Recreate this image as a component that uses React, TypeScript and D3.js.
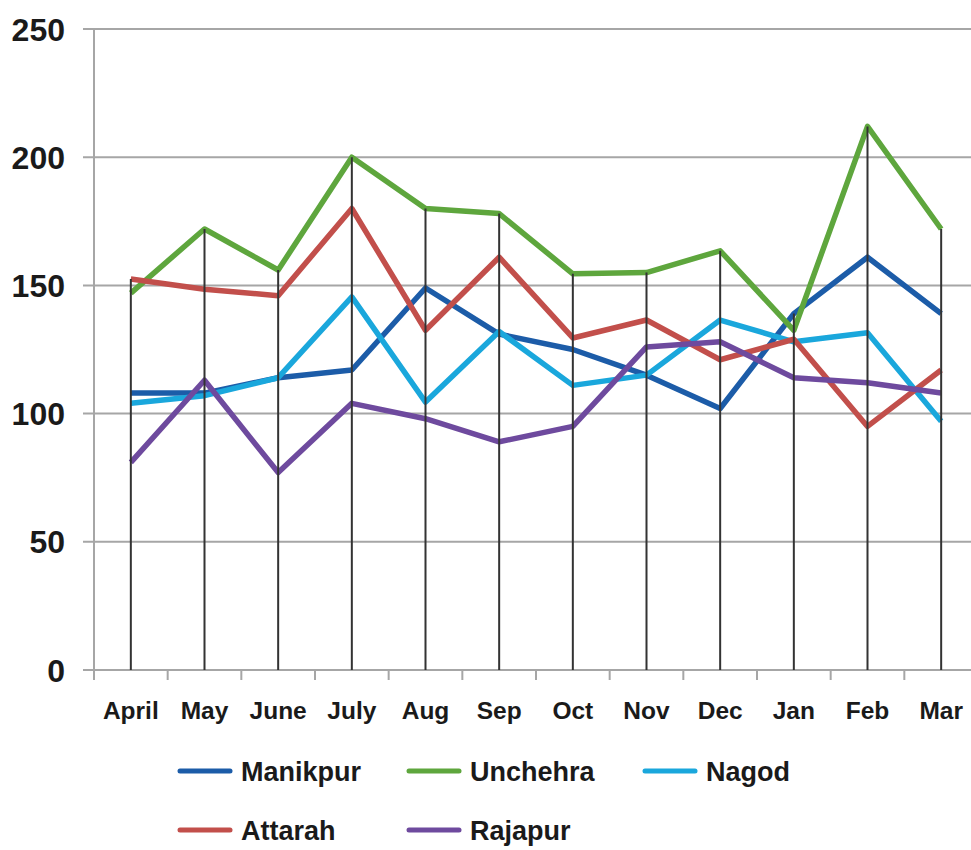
import * as React from 'react';
import * as d3 from 'd3';

const months = ['April', 'May', 'June', 'July', 'Aug', 'Sep', 'Oct', 'Nov', 'Dec', 'Jan', 'Feb', 'Mar'];
const yTicks = [0, 50, 100, 150, 200, 250];

const manikpur = [108, 108, 114, 117, 149, 131, 125, 115, 102, 139, 161, 139];
const unchehra = [147, 172, 156, 200, 180, 178, 154.5, 155, 163.5, 132.5, 212, 172];
const nagod = [104, 107, 114, 145.5, 104.5, 132, 111, 115, 136.5, 128, 131.5, 97];
const attarah = [152.5, 148.5, 146, 180, 132.5, 161, 129.5, 136.5, 121, 129, 95, 117];
const rajapur = [81, 113, 77, 104, 98, 89, 95, 126, 128, 114, 112, 108];

const seriesNames = ['Manikpur', 'Unchehra', 'Nagod', 'Attarah', 'Rajapur'];
const seriesValues = [manikpur, unchehra, nagod, attarah, rajapur];
const seriesColors = ['#1c5ca8', '#5ea63d', '#1aa7dc', '#c24f4b', '#6e4a9e'];

const W = 971;
const H = 850;
const margin = { top: 29, left: 94, bottom: 180 };
const plotRight = 978; // last category runs past the picture edge

export default function App() {
  const x = d3.scaleBand<string>().domain(months).range([margin.left, plotRight]);
  const y = d3.scaleLinear().domain([0, 250]).range([H - margin.bottom, margin.top]);
  const cx = (m: string) => (x(m) as number) + x.bandwidth() / 2;

  const line = d3.line<number>()
    .x((_, i) => cx(months[i]))
    .y((v) => y(v));

  const maxes = months.map((_, i) => d3.max(seriesValues, (s) => s[i]) as number);

  // legend: 3 per row
  const legendCols = [180, 409, 645];
  const legendRows = [771, 830];

  return (
    <svg width={W} height={H} style={{ position: 'absolute', left: 0, top: 0, background: '#fff' }}
      fontFamily="'Liberation Sans', Arial, sans-serif" fontWeight="bold">
      {/* gridlines */}
      {yTicks.map((t) => (
        <g key={t}>
          <line x1={margin.left - 11} x2={W} y1={y(t)} y2={y(t)} stroke="#a6a6a6" strokeWidth={2} />
          <text x={65} y={y(t)} dy="0.36em" textAnchor="end" fontSize={32} fill="#1a1a1a">{t}</text>
        </g>
      ))}
      {/* y axis */}
      <line x1={margin.left} x2={margin.left} y1={y(250)} y2={y(0) + 10} stroke="#a6a6a6" strokeWidth={2} />
      {/* category ticks */}
      {months.map((m) => (
        <line key={m} x1={x(m) as number} x2={x(m) as number} y1={y(0)} y2={y(0) + 10} stroke="#a6a6a6" strokeWidth={2} />
      ))}
      {/* x labels */}
      {months.map((m) => (
        <text key={m} x={cx(m)} y={y(0) + 49} textAnchor="middle" fontSize={24.5} fill="#1a1a1a">{m}</text>
      ))}
      {/* series */}
      {seriesValues.map((s, i) => (
        <path key={seriesNames[i]} d={line(s) as string} fill="none" stroke={seriesColors[i]}
          strokeWidth={5.5} strokeLinejoin="round" />
      ))}
      {/* drop lines */}
      {months.map((m, i) => (
        <line key={m} x1={cx(m)} x2={cx(m)} y1={y(maxes[i])} y2={y(0)} stroke="#333" strokeWidth={2} />
      ))}
      {/* legend */}
      {seriesNames.map((name, i) => {
        const lx = legendCols[i % 3];
        const ly = legendRows[Math.floor(i / 3)];
        return (
          <g key={name}>
            <line x1={lx} x2={lx + 50} y1={ly} y2={ly} stroke={seriesColors[i]} strokeWidth={5} strokeLinecap="round" />
            <text x={lx + 61} y={ly} dy="0.36em" fontSize={27} fill="#1a1a1a">{name}</text>
          </g>
        );
      })}
    </svg>
  );
}
